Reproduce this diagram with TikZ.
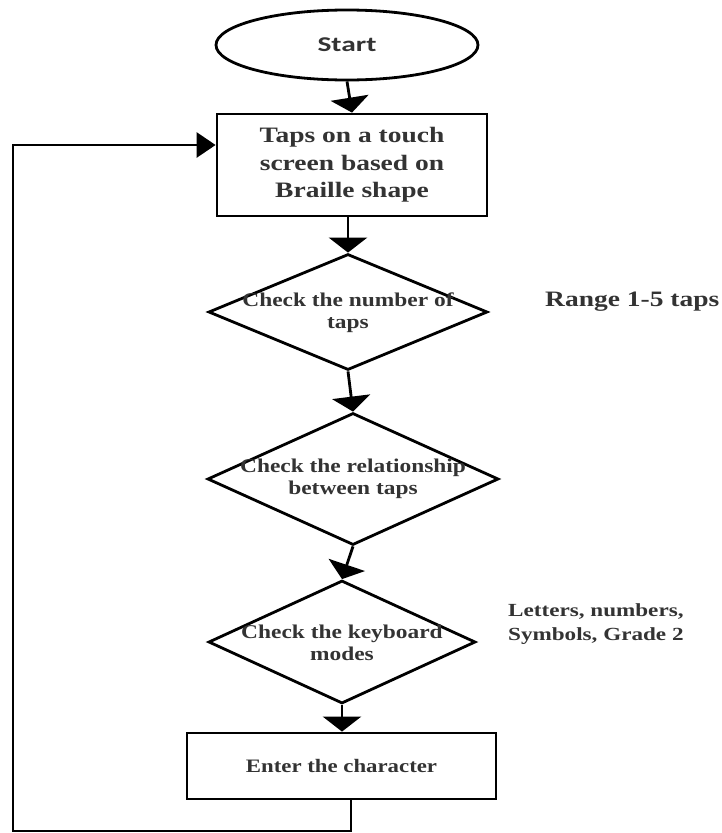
\documentclass[tikz,border=0pt]{standalone}
\usepackage{fontspec}
\usetikzlibrary{shapes.geometric,arrows.meta}
\newfontfamily\fwide[FakeStretch=1.25]{Liberation Serif}
\newfontfamily\fmid[FakeStretch=1.2]{Liberation Serif}
\newfontfamily\fstart[FakeStretch=1.4]{Carlito}
\definecolor{txt}{HTML}{333333}
\tikzset{
  shp/.style={draw=black, line width=2.8pt, inner sep=0pt, fill=white},
  flow/.style={draw=black, line width=2.8pt, -{Triangle[width=38pt,length=15pt]}},
  back/.style={draw=black, line width=2.8pt, -{Triangle[width=25pt,length=19pt]}},
  dtext/.style={text=txt, align=center, font=\fmid\bfseries\fontsize{19.5}{22}\selectfont, inner sep=0pt},
}
\begin{document}
\begin{tikzpicture}[x=1pt,y=-1pt]
\useasboundingbox (0,0) rectangle (721,833);
\fill[white] (0,0) rectangle (721,833);
% nodes
\node[shp, ellipse, minimum width=262pt, minimum height=70pt, text=txt,
      font=\fstart\bfseries\fontsize{21}{24}\selectfont] (start) at (347,45) {Start};
\node[shp, rectangle, minimum width=270pt, minimum height=102pt, text=txt, align=center,
      font=\fwide\bfseries\fontsize{22}{27.5}\selectfont] (box1) at (352,165)
      {Taps on a touch\\screen based on\\Braille shape};
\node[shp, diamond, minimum width=279pt, minimum height=116pt] (d1) at (348,312) {};
\node[dtext] (d1t) at (348,313) {Check the number of\\taps};
\node[shp, diamond, minimum width=291pt, minimum height=132pt] (d2) at (353,479) {};
\node[dtext] (d2t) at (353,479) {Check the relationship\\between taps};
\node[shp, diamond, minimum width=267pt, minimum height=123pt] (d3) at (342,642) {};
\node[dtext] (d3t) at (342,643) {Check the keyboard\\modes};
\node[shp, rectangle, minimum width=309pt, minimum height=66pt, text=txt,
      font=\fmid\bfseries\fontsize{19}{22}\selectfont] (box2) at (341.5,766) {Enter the character};
% side labels
\node[anchor=west, inner sep=0pt, text=txt, font=\fwide\bfseries\fontsize{22}{26}\selectfont]
      (range) at (545,302) {Range 1-5 taps};
\node[anchor=west, inner sep=0pt, text=txt, align=center,
      font=\fwide\bfseries\fontsize{18.5}{24}\selectfont]
      (modes) at (508,624) {Letters, numbers,\\Symbols, Grade 2};
% connectors
\draw[flow] (start.south) -- (box1.north);
\draw[flow] (box1.south -| d1.north) -- (d1.north);
\draw[flow] (d1.south) -- (d2.north);
\draw[flow] (d2.south) -- (d3.north);
\draw[flow] (d3.south) -- (box2.north -| d3.south);
\coordinate (c1) at (351,831);
\coordinate (c2) at (13,831);
\coordinate (c3) at (13,145);
\draw[back] (box2.south -| c1) -- (c1) -- (c2) -- (c3) -- (c3 -| box1.west);
\end{tikzpicture}
\end{document}
